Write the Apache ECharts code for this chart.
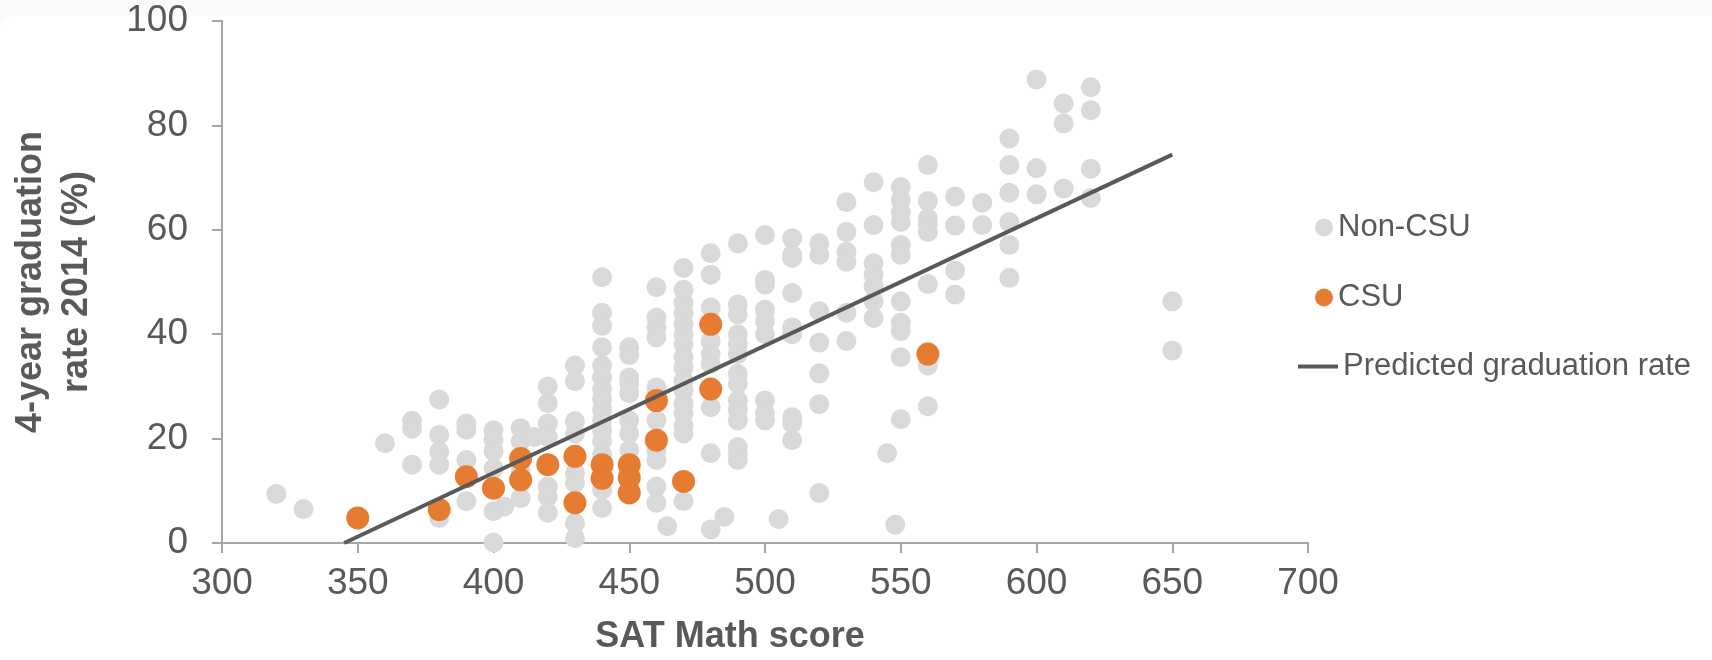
<!DOCTYPE html>
<html>
<head>
<meta charset="utf-8">
<script src="https://cdn.jsdelivr.net/npm/echarts@6/dist/echarts.min.js"></script>
<style>
  html, body { margin: 0; padding: 0; width: 1712px; height: 660px; background: #fafafa; overflow: hidden; }
  #card { position: absolute; left: 0; top: 16px; width: 1712px; height: 644px; background: #ffffff; border-top-left-radius: 14px; }
  #chart { position: absolute; left: 0; top: 0; width: 1712px; height: 660px; }
</style>
</head>
<body>
<div id="card"></div>
<div id="chart"></div>
<script>
// SAT Math score columns and 4-year graduation rates (%) for non-CSU schools
const nonCsuScores = [320, 330, 360, 370, 380, 390, 400, 404, 410, 415, 420, 430, 440, 450, 460, 464, 470, 480, 485, 490, 500, 505, 510, 520, 530, 540, 545, 548, 550, 560, 570, 580, 590, 600, 610, 620, 650];
const nonCsuRates = [
  [9.4],
  [6.5],
  [19.1],
  [23.4, 21.9, 15.0],
  [27.5, 20.7, 17.5, 15.0, 4.8],
  [22.9, 21.7, 15.9, 8.0],
  [21.6, 19.8, 17.6, 14.3, 6.1, 0.1],
  [7.0],
  [22.0, 19.5, 14.0, 8.6],
  [20.3],
  [30.0, 26.8, 22.9, 20.3, 10.8, 8.9, 5.8],
  [34.0, 31.0, 23.3, 21.0, 13.4, 11.5, 3.8, 0.9],
  [50.9, 44.1, 41.6, 37.5, 34.0, 31.7, 29.5, 27.5, 25.5, 23.5, 21.5, 19.5, 17.0, 10.2, 6.7],
  [37.5, 36.0, 31.7, 30.5, 28.7, 23.5, 21.0, 17.8],
  [49.0, 43.2, 41.3, 39.4, 29.8, 23.5, 17.8, 15.9, 10.8, 7.7],
  [3.2],
  [52.7, 48.5, 46.0, 44.0, 41.9, 40.0, 38.1, 35.6, 33.6, 31.1, 29.2, 26.7, 24.8, 22.5, 21.0, 8.0],
  [55.5, 51.4, 45.1, 38.7, 36.2, 34.3, 26.0, 17.2, 2.6],
  [5.0],
  [57.4, 45.7, 43.8, 40.0, 38.1, 36.2, 32.4, 30.5, 27.3, 25.5, 23.5, 18.4, 17.0, 15.9],
  [59.0, 50.4, 49.5, 44.7, 42.5, 40.0, 27.3, 24.8, 23.5],
  [4.6],
  [58.4, 55.2, 54.6, 47.9, 41.3, 40.0, 24.1, 22.9, 19.7],
  [57.4, 55.2, 44.4, 38.4, 32.5, 26.6, 9.6],
  [65.3, 59.6, 55.8, 53.9, 44.1, 38.7],
  [69.1, 60.9, 53.6, 51.4, 49.2, 46.3, 43.1],
  [17.2],
  [3.5],
  [68.2, 65.7, 63.4, 61.5, 57.1, 55.2, 46.3, 42.2, 40.6, 35.6, 23.7],
  [72.4, 65.5, 62.2, 61.0, 59.6, 49.6, 34.0, 26.2],
  [66.4, 60.8, 52.2, 47.6],
  [65.2, 60.9],
  [77.5, 72.4, 67.1, 61.5, 57.1, 50.8],
  [88.8, 71.8, 66.8],
  [84.2, 80.4, 67.9],
  [87.3, 82.9, 71.7, 66.1],
  [46.3, 36.9]
];

// CSU campuses
const csuScores = [350, 380, 390, 400, 410, 410, 420, 430, 430, 440, 440, 450, 450, 450, 460, 460, 470, 480, 480, 560];
const csuRates  = [4.8, 6.4, 12.7, 10.5, 16.2, 12.1, 15.0, 16.6, 7.7, 15.0, 12.4, 15.0, 12.5, 9.6, 27.3, 19.7, 11.8, 41.9, 29.5, 36.2];

// Predicted graduation rate (regression line end points)
const predScores = [345, 650];
const predRates  = [0, 74.4];

const seriesNames = ['Non-CSU', 'CSU', 'Predicted graduation rate'];

const nonCsuData = [];
nonCsuScores.forEach((s, i) => nonCsuRates[i].forEach(r => nonCsuData.push([s, r])));
const csuData = csuScores.map((s, i) => [s, csuRates[i]]);
const predData = predScores.map((s, i) => [s, predRates[i]]);

const textColor = '#595959';
const axisColor = '#a6a6a6';
const font = '"Liberation Sans", Arial, sans-serif';

const chart = echarts.init(document.getElementById('chart'), null, { renderer: 'canvas' });
chart.setOption({
  backgroundColor: 'transparent',
  animation: false,
  textStyle: { fontFamily: font },
  grid: { left: 221, right: 404, top: 21, bottom: 113, containLabel: false },
  xAxis: {
    type: 'value', min: 300, max: 700, interval: 50,
    name: 'SAT Math score', nameLocation: 'middle', nameGap: 76,
    nameTextStyle: { color: textColor, fontSize: 36, fontWeight: 'bold', fontFamily: font, padding: [0, 70, 0, 0] },
    axisLine: { show: true, lineStyle: { color: axisColor, width: 2 } },
    axisTick: { show: true, length: 10, lineStyle: { color: axisColor, width: 2 } },
    axisLabel: { color: textColor, fontSize: 37, margin: 22, fontFamily: font },
    splitLine: { show: false }
  },
  yAxis: {
    type: 'value', min: 0, max: 100, interval: 20,
    name: '4-year graduation\nrate 2014 (%)', nameLocation: 'middle', nameGap: 122, nameRotate: 90,
    nameTextStyle: { color: textColor, fontSize: 36, fontWeight: 'bold', fontFamily: font, lineHeight: 46 },
    axisLine: { show: true, lineStyle: { color: axisColor, width: 2 } },
    axisTick: { show: true, length: 10, lineStyle: { color: axisColor, width: 2 } },
    axisLabel: { color: textColor, fontSize: 37, margin: 34, fontFamily: font },
    splitLine: { show: false }
  },
  legend: [
    { data: [{ name: seriesNames[0], icon: 'circle' }], orient: 'vertical', left: 1310, top: 207, itemWidth: 18, itemHeight: 18, itemGap: 0,
      textStyle: { color: textColor, fontSize: 31, fontFamily: font }, selectedMode: false },
    { data: [{ name: seriesNames[1], icon: 'circle' }], orient: 'vertical', left: 1310, top: 277, itemWidth: 18, itemHeight: 18, itemGap: 0,
      textStyle: { color: textColor, fontSize: 31, fontFamily: font }, selectedMode: false },
    { data: [{ name: seriesNames[2], icon: 'rect' }], orient: 'vertical', left: 1293, top: 346, itemWidth: 40, itemHeight: 4, itemGap: 0,
      textStyle: { color: textColor, fontSize: 31, fontFamily: font }, selectedMode: false }
  ],
  series: [
    { name: seriesNames[0], type: 'scatter', data: nonCsuData, symbol: 'circle', symbolSize: 20,
      itemStyle: { color: '#d9d9d9', opacity: 1 }, z: 2, emphasis: { disabled: true } },
    { name: seriesNames[1], type: 'scatter', data: csuData, symbol: 'circle', symbolSize: 23,
      itemStyle: { color: '#e67c31', opacity: 1 }, z: 3, emphasis: { disabled: true } },
    { name: seriesNames[2], type: 'line', data: predData, symbol: 'none', showSymbol: false,
      lineStyle: { color: '#595959', width: 4 }, itemStyle: { color: '#595959' }, z: 4, emphasis: { disabled: true } }
  ]
});
</script>
</body>
</html>
